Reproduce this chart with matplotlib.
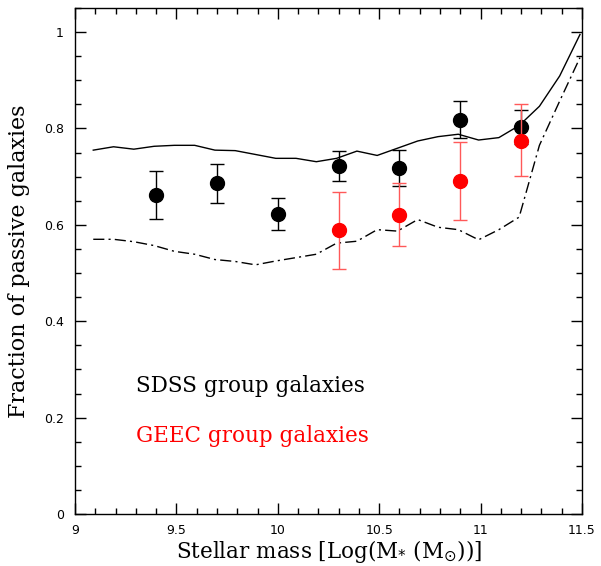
import matplotlib
matplotlib.use("Agg")
import matplotlib.pyplot as plt
from matplotlib.ticker import MultipleLocator

# SDSS group galaxies (black points)
sdss_x = [9.4, 9.7, 10.0, 10.3, 10.6, 10.9, 11.2]
sdss_y = [0.662, 0.686, 0.623, 0.723, 0.718, 0.818, 0.803]
sdss_lo = [0.612, 0.645, 0.589, 0.692, 0.681, 0.781, 0.767]
sdss_hi = [0.712, 0.726, 0.655, 0.753, 0.755, 0.857, 0.839]

# GEEC group galaxies (red points)
geec_x = [10.3, 10.6, 10.9, 11.2]
geec_y = [0.589, 0.621, 0.692, 0.775]
geec_lo = [0.508, 0.556, 0.611, 0.701]
geec_hi = [0.668, 0.686, 0.771, 0.850]

# Model curves
curve_x = [9.09, 9.19, 9.29, 9.39, 9.49, 9.59, 9.69, 9.79, 9.89, 9.99, 10.09, 10.19,
           10.29, 10.39, 10.49, 10.59, 10.69, 10.79, 10.89, 10.99, 11.09, 11.19,
           11.29, 11.39, 11.49]
solid_y = [0.755, 0.762, 0.757, 0.763, 0.765, 0.765, 0.755, 0.754, 0.746, 0.738, 0.738, 0.731,
           0.738, 0.753, 0.744, 0.759, 0.774, 0.783, 0.788, 0.776, 0.781, 0.806,
           0.846, 0.909, 0.995]
dashdot_y = [0.570, 0.570, 0.565, 0.557, 0.545, 0.539, 0.528, 0.524, 0.517, 0.525, 0.532, 0.539,
             0.562, 0.566, 0.590, 0.587, 0.611, 0.595, 0.590, 0.569, 0.590, 0.616,
             0.765, 0.857, 0.947]

fig = plt.figure(figsize=(6.01, 5.66), dpi=100)
ax = fig.add_axes([0.1248, 0.0919, 0.8436, 0.894])

ax.plot(curve_x, solid_y, color="black", lw=1.0)
ax.plot(curve_x, dashdot_y, color="black", lw=1.0, linestyle=(0, (8, 3, 1.5, 3)))

def yerr(y, lo, hi):
    return [[a - b for a, b in zip(y, lo)], [c - a for a, c in zip(y, hi)]]

ax.errorbar(sdss_x, sdss_y, yerr=yerr(sdss_y, sdss_lo, sdss_hi), fmt="o", color="black",
            ms=10, capsize=5, elinewidth=1.0, capthick=1.0, zorder=3)
ax.errorbar(geec_x, geec_y, yerr=yerr(geec_y, geec_lo, geec_hi), fmt="o", color="red",
            ms=10, ecolor=(1, 0.35, 0.35), capsize=5, elinewidth=1.0, capthick=1.0, zorder=4)

ax.set_xlim(9, 11.5)
ax.set_ylim(0, 1.05)
ax.xaxis.set_major_locator(MultipleLocator(0.5))
ax.xaxis.set_minor_locator(MultipleLocator(0.1))
ax.yaxis.set_major_locator(MultipleLocator(0.2))
ax.yaxis.set_minor_locator(MultipleLocator(0.05))
ax.set_xticks([9, 9.5, 10, 10.5, 11, 11.5])
ax.set_xticklabels(["9", "9.5", "10", "10.5", "11", "11.5"])
ax.set_yticks([0, 0.2, 0.4, 0.6, 0.8, 1.0])
ax.set_yticklabels(["0", "0.2", "0.4", "0.6", "0.8", "1"])
ax.tick_params(which="both", direction="in", top=True, right=True, labelsize=9)
ax.tick_params(which="major", length=8, width=1)
ax.tick_params(which="minor", length=4, width=1)
ax.tick_params(axis="x", pad=7)
ax.tick_params(axis="y", pad=8)
for s in ax.spines.values():
    s.set_linewidth(1.0)

serif = "DejaVu Serif"
ax.set_xlabel(r"Stellar mass [Log(M$_{*}$ (M$_{\odot}$))]", fontsize=15.5, family=serif, labelpad=1)
ax.set_ylabel("Fraction of passive galaxies", fontsize=16, family=serif, labelpad=10)

ax.text(9.30, 0.265, "SDSS group galaxies", fontsize=15.5, family=serif, color="black", va="center")
ax.text(9.30, 0.162, "GEEC group galaxies", fontsize=15.5, family=serif, color="red", va="center")

fig.savefig("out.png", dpi=100)
